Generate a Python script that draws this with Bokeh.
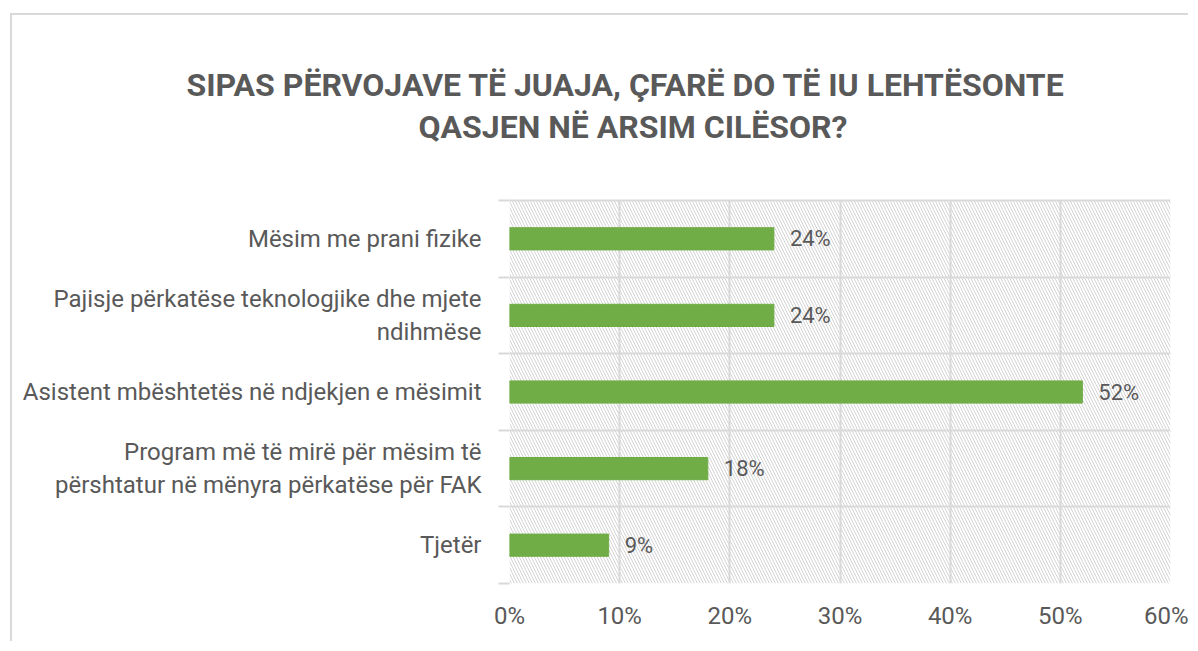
from bokeh.plotting import figure
from bokeh.models import (FixedTicker, PrintfTickFormatter, BoxAnnotation, Title,
                          ColumnDataSource, Range1d, LabelSet)
from bokeh.core.properties import value
from bokeh.embed import file_html
from bokeh.resources import INLINE

categories = [
    "Mësim me prani fizike",
    "Pajisje përkatëse teknologjike dhe mjete\nndihmëse",
    "Asistent mbështetës në ndjekjen e mësimit",
    "Program më të mirë për mësim të\npërshtatur në mënyra përkatëse për FAK",
    "Tjetër",
]
values = [24, 24, 52, 18, 9]
x_ticks = [0, 10, 20, 30, 40, 50, 60]
title_lines = ["SIPAS PËRVOJAVE TË JUAJA, ÇFARË DO TË IU LEHTËSONTE",
               "QASJEN NË ARSIM CILËSOR?"]

TEXT = "#595959"
GRID = "#d9d9d9"
FONT = "Roboto"

# layout (pixels)
W, H = 1178, 628
TOP_BORDER, BOTTOM_BORDER = 131, 60
PLOT_H = 383                       # height of the category area
FRAME_H = H - TOP_BORDER - BOTTOM_BORDER
title_offsets = [-323, -91]        # left edge of each title line relative to the plot area

n = len(categories)
ypos = [n - i - 0.5 for i in range(n)]
src = ColumnDataSource(dict(y=ypos, v=values, lab=[f"{v}%" for v in values]))
y_top = n * FRAME_H / PLOT_H       # a little room between title and categories

p = figure(width=W, height=H, x_range=Range1d(x_ticks[0], x_ticks[-1]), y_range=Range1d(0, y_top),
           output_backend="svg", toolbar_location=None,
           min_border_left=497, min_border_right=20,
           min_border_top=TOP_BORDER, min_border_bottom=BOTTOM_BORDER)
p.margin = (13, 0, 0, 10)
p.styles = {"border-left": f"2px solid {GRID}", "border-top": f"2px solid {GRID}"}
p.outline_line_color = None
p.background_fill_color = "white"

# hatched plot area
p.add_layout(BoxAnnotation(bottom=0, top=n, fill_alpha=0, line_color=None,
                           hatch_pattern="left_diagonal_line", hatch_color="#d4d4d4",
                           hatch_scale=6, hatch_weight=1, level="image"))

p.xgrid.ticker = FixedTicker(ticks=x_ticks)
p.xgrid.cross_bounds = (0, n)
p.ygrid.ticker = FixedTicker(ticks=list(range(n + 1)))
for g in (p.xgrid, p.ygrid):
    g.grid_line_color = GRID
    g.grid_line_width = 2

xa = p.xaxis[0]
xa.ticker = FixedTicker(ticks=x_ticks)
xa.formatter = PrintfTickFormatter(format="%d%%")
xa.axis_line_color = None
xa.major_tick_line_color = None
xa.minor_tick_line_color = None
xa.major_label_standoff = 12
xa.major_label_text_font = FONT
xa.major_label_text_font_size = "24px"
xa.major_label_text_color = TEXT

ya = p.yaxis[0]
ya.ticker = FixedTicker(ticks=ypos, minor_ticks=list(range(n + 1)))
ya.major_label_overrides = {y: c for y, c in zip(ypos, categories)}
ya.axis_line_color = None
ya.major_tick_line_color = None
ya.minor_tick_in = 0
ya.minor_tick_out = 11
ya.minor_tick_line_color = GRID
ya.minor_tick_line_width = 2
ya.major_label_standoff = 17
ya.major_label_text_font = FONT
ya.major_label_text_font_size = "24px"
ya.major_label_text_color = TEXT

p.hbar(y="y", right="v", left=0, height=0.29, color="#70AD47", source=src)
p.add_layout(LabelSet(x="v", y="y", text="lab", source=src, x_offset=16, text_baseline="middle",
                      text_font=value(FONT), text_font_size="22px", text_color=TEXT))

# titles: the line added first sits closest to the plot
for t, off in reversed(list(zip(title_lines, title_offsets))):
    p.add_layout(Title(text=t, align="left", offset=off, standoff=2, text_font=FONT,
                       text_font_style="bold", text_font_size="32px", text_color=TEXT), "above")

open("out.html", "w").write(file_html(p, INLINE))
